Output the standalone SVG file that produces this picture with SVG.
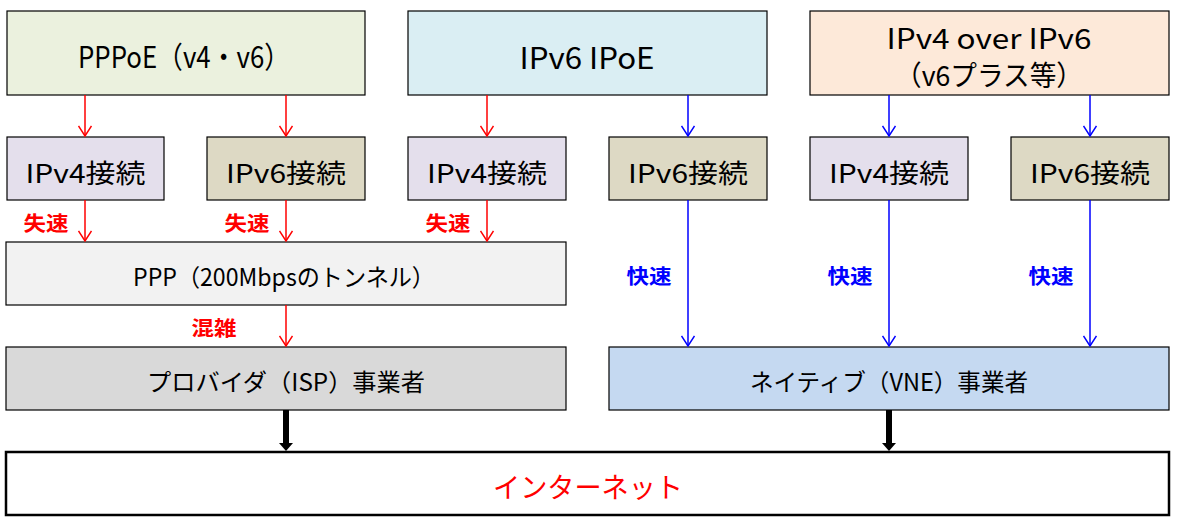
<svg xmlns="http://www.w3.org/2000/svg" width="1177" height="527" viewBox="0 0 1177 527">
<style>
.box{stroke:#000;stroke-width:1.2}
.t{font-family:"Noto Sans CJK JP","Liberation Sans",sans-serif;fill:#000;text-anchor:middle;dominant-baseline:central}
.big{font-size:30px}
.big2{font-size:28px}
.mid{font-size:26px}
.sm{font-size:24px}
.lbl{font-family:"Noto Sans CJK JP",sans-serif;font-size:20px;font-weight:bold;text-anchor:middle;dominant-baseline:central}
.red{stroke:#FF0000;stroke-width:1.5;fill:none}
.blue{stroke:#0000FF;stroke-width:1.5;fill:none}
.blk{stroke:#000;stroke-width:6;fill:none}
</style>
<defs>
<marker id="ar" viewBox="0 0 12 14" refX="11" refY="7" markerWidth="12" markerHeight="14" markerUnits="userSpaceOnUse" orient="auto">
<path d="M1,0.5 L11,7 L1,13.5" fill="none" stroke="#FF0000" stroke-width="1.5"/>
</marker>
<marker id="ab" viewBox="0 0 12 14" refX="11" refY="7" markerWidth="12" markerHeight="14" markerUnits="userSpaceOnUse" orient="auto">
<path d="M1,0.5 L11,7 L1,13.5" fill="none" stroke="#0000FF" stroke-width="1.5"/>
</marker>
</defs>
<g id="pppoe"><rect class="box" x="7" y="11" width="358" height="84" fill="#EBF1DE"/><text class="t big" x="184" y="55" textLength="212" lengthAdjust="spacingAndGlyphs">PPPoE（v4・v6）</text></g>
<g id="ipoe"><rect class="box" x="408" y="11" width="359" height="84" fill="#DAEEF3"/><text class="t big" x="587" y="56" textLength="135" lengthAdjust="spacingAndGlyphs">IPv6 IPoE</text></g>
<g id="v4ov6"><rect class="box" x="810" y="11" width="359" height="84" fill="#FDE9D9"/><text class="t big2" x="989" y="37" textLength="205" lengthAdjust="spacingAndGlyphs">IPv4 over IPv6</text><text class="t big2" x="989" y="74" textLength="188" lengthAdjust="spacingAndGlyphs">（v6プラス等）</text></g>
<g id="c1"><rect class="box" x="7" y="137" width="157" height="63" fill="#E4DFEC"/><text class="t mid" x="85.5" y="171" textLength="120" lengthAdjust="spacingAndGlyphs">IPv4接続</text></g>
<g id="c2"><rect class="box" x="207" y="137" width="158" height="63" fill="#DDD9C4"/><text class="t mid" x="286" y="171" textLength="120" lengthAdjust="spacingAndGlyphs">IPv6接続</text></g>
<g id="c3"><rect class="box" x="408" y="137" width="158" height="63" fill="#E4DFEC"/><text class="t mid" x="487" y="171" textLength="120" lengthAdjust="spacingAndGlyphs">IPv4接続</text></g>
<g id="c4"><rect class="box" x="609" y="137" width="158" height="63" fill="#DDD9C4"/><text class="t mid" x="688" y="171" textLength="120" lengthAdjust="spacingAndGlyphs">IPv6接続</text></g>
<g id="c5"><rect class="box" x="810" y="137" width="158" height="63" fill="#E4DFEC"/><text class="t mid" x="889" y="171" textLength="120" lengthAdjust="spacingAndGlyphs">IPv4接続</text></g>
<g id="c6"><rect class="box" x="1011" y="137" width="158" height="63" fill="#DDD9C4"/><text class="t mid" x="1090" y="171" textLength="120" lengthAdjust="spacingAndGlyphs">IPv6接続</text></g>
<g id="ppp"><rect class="box" x="6" y="242" width="560" height="63" fill="#F2F2F2"/><text class="t sm" x="284" y="275" textLength="302" lengthAdjust="spacingAndGlyphs">PPP（200Mbpsのトンネル）</text></g>
<g id="isp"><rect class="box" x="6" y="347" width="560" height="63" fill="#D9D9D9"/><text class="t sm" x="286" y="380" textLength="278" lengthAdjust="spacingAndGlyphs">プロバイダ（ISP）事業者</text></g>
<g id="vne"><rect class="box" x="609" y="347" width="560" height="63" fill="#C5D9F1"/><text class="t sm" x="889" y="380" textLength="278" lengthAdjust="spacingAndGlyphs">ネイティブ（VNE）事業者</text></g>
<g id="internet"><rect x="6" y="452" width="1163" height="63" fill="#FFFFFF" stroke="#000" stroke-width="2.5"/><text class="t" style="font-size:28px;fill:#FF0000" x="588" y="486" textLength="190" lengthAdjust="spacingAndGlyphs">インターネット</text></g>
<g id="connectors">
<path class="red" d="M85,95 V136" marker-end="url(#ar)"/>
<path class="red" d="M286,95 V136" marker-end="url(#ar)"/>
<path class="red" d="M487,95 V136" marker-end="url(#ar)"/>
<path class="blue" d="M688,95 V136" marker-end="url(#ab)"/>
<path class="blue" d="M889,95 V136" marker-end="url(#ab)"/>
<path class="blue" d="M1090,95 V136" marker-end="url(#ab)"/>
<path class="red" d="M85,200 V241" marker-end="url(#ar)"/>
<path class="red" d="M286,200 V241" marker-end="url(#ar)"/>
<path class="red" d="M487,200 V241" marker-end="url(#ar)"/>
<path class="blue" d="M688,200 V346" marker-end="url(#ab)"/>
<path class="blue" d="M889,200 V346" marker-end="url(#ab)"/>
<path class="blue" d="M1090,200 V346" marker-end="url(#ab)"/>
<path class="red" d="M286,305 V346" marker-end="url(#ar)"/>
<path class="blk" d="M286,410 V444"/>
<path d="M279,443 L293,443 L286,451 Z" fill="#000"/>
<path class="blk" d="M889,410 V444"/>
<path d="M882,443 L896,443 L889,451 Z" fill="#000"/>
<text class="lbl" fill="#FF0000" x="46" y="222" textLength="45" lengthAdjust="spacingAndGlyphs">失速</text>
<text class="lbl" fill="#FF0000" x="247" y="222" textLength="45" lengthAdjust="spacingAndGlyphs">失速</text>
<text class="lbl" fill="#FF0000" x="448" y="222" textLength="45" lengthAdjust="spacingAndGlyphs">失速</text>
<text class="lbl" fill="#FF0000" x="214" y="327" textLength="45" lengthAdjust="spacingAndGlyphs">混雑</text>
<text class="lbl" fill="#0000FF" x="649" y="275" textLength="45" lengthAdjust="spacingAndGlyphs">快速</text>
<text class="lbl" fill="#0000FF" x="850" y="275" textLength="45" lengthAdjust="spacingAndGlyphs">快速</text>
<text class="lbl" fill="#0000FF" x="1051" y="275" textLength="45" lengthAdjust="spacingAndGlyphs">快速</text>
</g>
</svg>
